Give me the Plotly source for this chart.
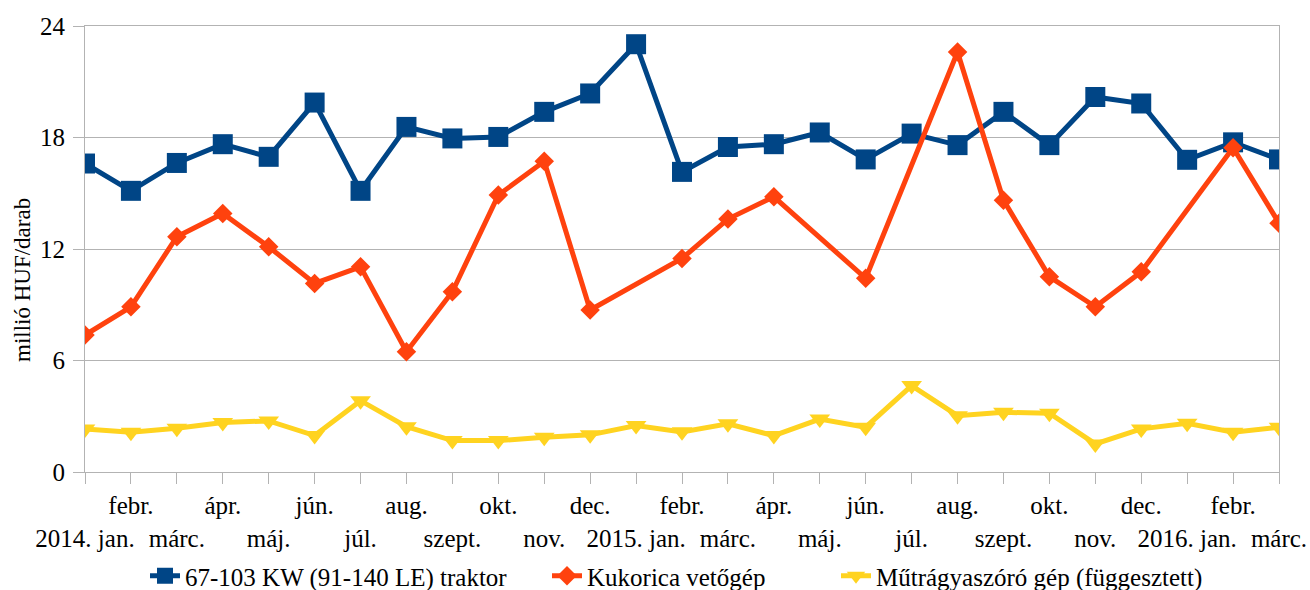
import plotly.graph_objects as go

months = ["2014. jan.", "febr.", "márc.", "ápr.", "máj.", "jún.", "júl.", "aug.", "szept.", "okt.", "nov.", "dec.",
          "2015. jan.", "febr.", "márc.", "ápr.", "máj.", "jún.", "júl.", "aug.", "szept.", "okt.", "nov.", "dec.",
          "2016. jan.", "febr.", "márc."]

traktor = [16.6, 15.13, 16.63, 17.64, 16.96, 19.88, 15.13, 18.57, 17.95, 18.03, 19.38, 20.37,
           23.02, 16.15, 17.49, 17.64, 18.27, 16.82, 18.21, 17.59, 19.38, 17.59, 20.18, 19.83,
           16.8, 17.74, 16.82]

kukorica = [7.37, 8.89, 12.66, 13.91, 12.12, 10.15, 11.04, 6.47, 9.7, 14.9, 16.72, 8.72,
            None, 11.49, 13.61, 14.81, None, 10.42, None, 22.6, 14.63, 10.51, 8.89, 10.77,
            None, 17.45, 13.39]

mutragya = [2.31, 2.14, 2.35, 2.66, 2.75, 1.96, 3.84, 2.44, 1.69, 1.69, 1.87, 2.0,
            2.5, 2.16, 2.59, 1.96, 2.85, 2.41, 4.65, 3.03, 3.21, 3.16, 1.51, 2.32,
            2.62, 2.14, 2.41]

series_names = ["67-103 KW (91-140 LE) traktor", "Kukorica vetőgép", "Műtrágyaszóró gép (függesztett)"]
y_ticks = [0, 6, 12, 18, 24]
y_title = "millió HUF/darab"

x = list(range(len(months)))
ticktext = [m if i % 2 == 1 else "<br>" + m for i, m in enumerate(months)]

FONT = "Liberation Serif"
W, H = 1310, 590
L, R, T, B = 85, 31, 26, 118

fig = go.Figure()
fig.add_trace(go.Scatter(x=x, y=traktor, name=series_names[0], mode="lines+markers", legend="legend",
                         line=dict(color="#004586", width=5),
                         marker=dict(symbol="square", size=20, color="#004586")))
fig.add_trace(go.Scatter(x=x, y=kukorica, name=series_names[1], mode="lines+markers", connectgaps=True,
                         legend="legend2",
                         line=dict(color="#ff420e", width=5),
                         marker=dict(symbol="diamond", size=15, color="#ff420e")))
fig.add_trace(go.Scatter(x=x, y=mutragya, name=series_names[2], mode="lines+markers", legend="legend3",
                         line=dict(color="#ffd320", width=5),
                         marker=dict(symbol="triangle-down", size=18, color="#ffd320")))

def leg(text_start):
    return dict(orientation="h", xref="container", yref="container",
                x=(text_start - 41) / W, xanchor="left", y=1 - 576 / H, yanchor="middle",
                font=dict(family=FONT, size=25, color="black"), bgcolor="rgba(0,0,0,0)")

plot_h = H - T - B
plot_w = W - L - R

fig.update_layout(
    width=W, height=H,
    margin=dict(l=L, r=R, t=T, b=B, autoexpand=False),
    paper_bgcolor="white", plot_bgcolor="white",
    font=dict(family=FONT, size=25, color="black"),
    showlegend=True,
    legend=leg(186), legend2=leg(588), legend3=leg(877),
    xaxis=dict(range=[0, 26], tickmode="array", tickvals=x, ticktext=ticktext, automargin=False,
               showgrid=False, zeroline=False, showline=True, linecolor="#b3b3b3", linewidth=1,
               mirror=True, ticks="outside", ticklen=11, tickcolor="#b3b3b3", tickangle=0,
               tickfont=dict(family=FONT, size=25, color="black")),
    yaxis=dict(range=[0, 24], tickmode="array", tickvals=y_ticks, showgrid=True, gridcolor="#b3b3b3",
               gridwidth=1, zeroline=False, showline=True, linecolor="#b3b3b3", linewidth=1, mirror=True,
               ticks="outside", ticklen=11, tickcolor="#b3b3b3", automargin=False,
               tickfont=dict(family=FONT, size=25, color="black"), ticklabelstandoff=3),
    annotations=[dict(text=y_title, textangle=-90, xref="paper", yref="paper",
                      x=(22 - L) / plot_w, y=(H - B - 280) / plot_h, xanchor="center", yanchor="middle",
                      showarrow=False, font=dict(family=FONT, size=23, color="black"))],
)

fig.write_html("out.html", config={"displayModeBar": False},
               post_script="document.body.style.margin='0';document.body.style.overflow='hidden';")
